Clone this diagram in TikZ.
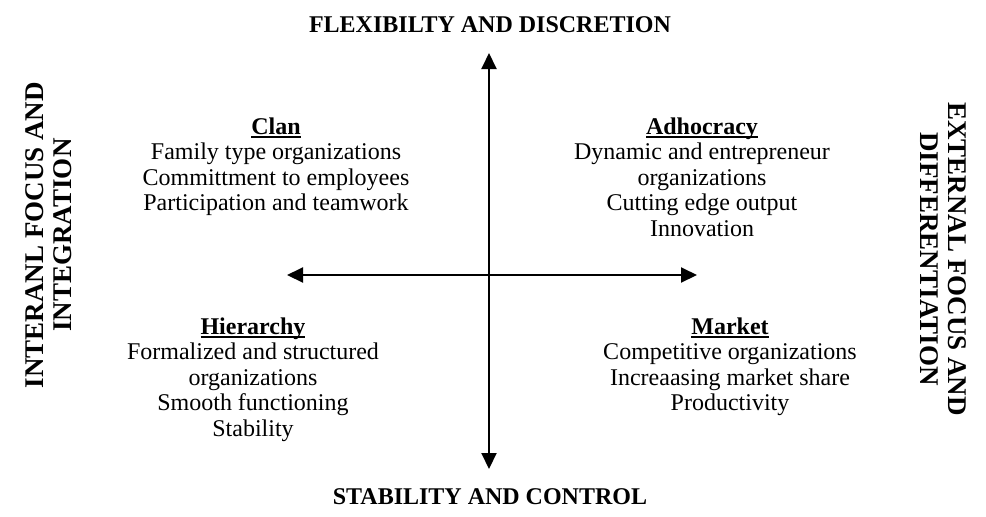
\documentclass[tikz,border=0pt]{standalone}
\usepackage{fontspec}
\setmainfont{Liberation Serif}
\usetikzlibrary{arrows.meta}
\newcommand{\quadhead}[1]{\setbox0\hbox{\textbf{#1}}\rlap{\rule[-2pt]{\wd0}{1pt}}\box0}

\begin{document}
\begin{tikzpicture}[x=0.5pt, y=-0.5pt,
        axis/.style={draw, line width=1pt, {Triangle[length=8pt,width=7.5pt]}-{Triangle[length=8pt,width=7.5pt]}},
        heading/.style={font=\fontsize{12}{14}\selectfont\bfseries, align=center, inner sep=0pt},
        side/.style={font=\fontsize{13.5}{14}\selectfont\bfseries, align=center, inner sep=0pt},
        quad/.style={font=\fontsize{12}{12.75}\selectfont, align=center, inner sep=0pt, anchor=north}
    ]
        \useasboundingbox (0,0) rectangle (986,516);

        % axes
        \coordinate (top) at (489,53);
        \coordinate (bottom) at (489,469);
        \coordinate (left) at (287,275);
        \coordinate (right) at (697,275);
        \draw[axis] (top) -- (bottom);
        \draw[axis] (left) -- (right);

        % axis labels
        \node[heading] (flex) at (490,25) {FLEXIBILTY AND DISCRETION};
        \node[heading] (stab) at (490,497) {STABILITY AND CONTROL};
        \node[side, rotate=90] (internal) at (49,235) {INTERANL FOCUS AND\\INTEGRATION};
        \node[side, rotate=-90] (external) at (943,259) {EXTERNAL FOCUS AND\\DIFFERENTIATION};

        % quadrants
        \node[quad] (clan) at (276,117) {\quadhead{Clan}\\Family type organizations\\Committment to employees\\Participation and teamwork};
        \node[quad] (adhoc) at (702,117) {\quadhead{Adhocracy}\\Dynamic and entrepreneur\\organizations\\Cutting edge output\\Innovation};
        \node[quad] (hier) at (253,317) {\quadhead{Hierarchy}\\Formalized and structured\\organizations\\Smooth functioning\\Stability};
        \node[quad] (market) at (730,317) {\quadhead{Market}\\Competitive organizations\\Increaasing market share\\Productivity};
    \end{tikzpicture}
\end{document}
